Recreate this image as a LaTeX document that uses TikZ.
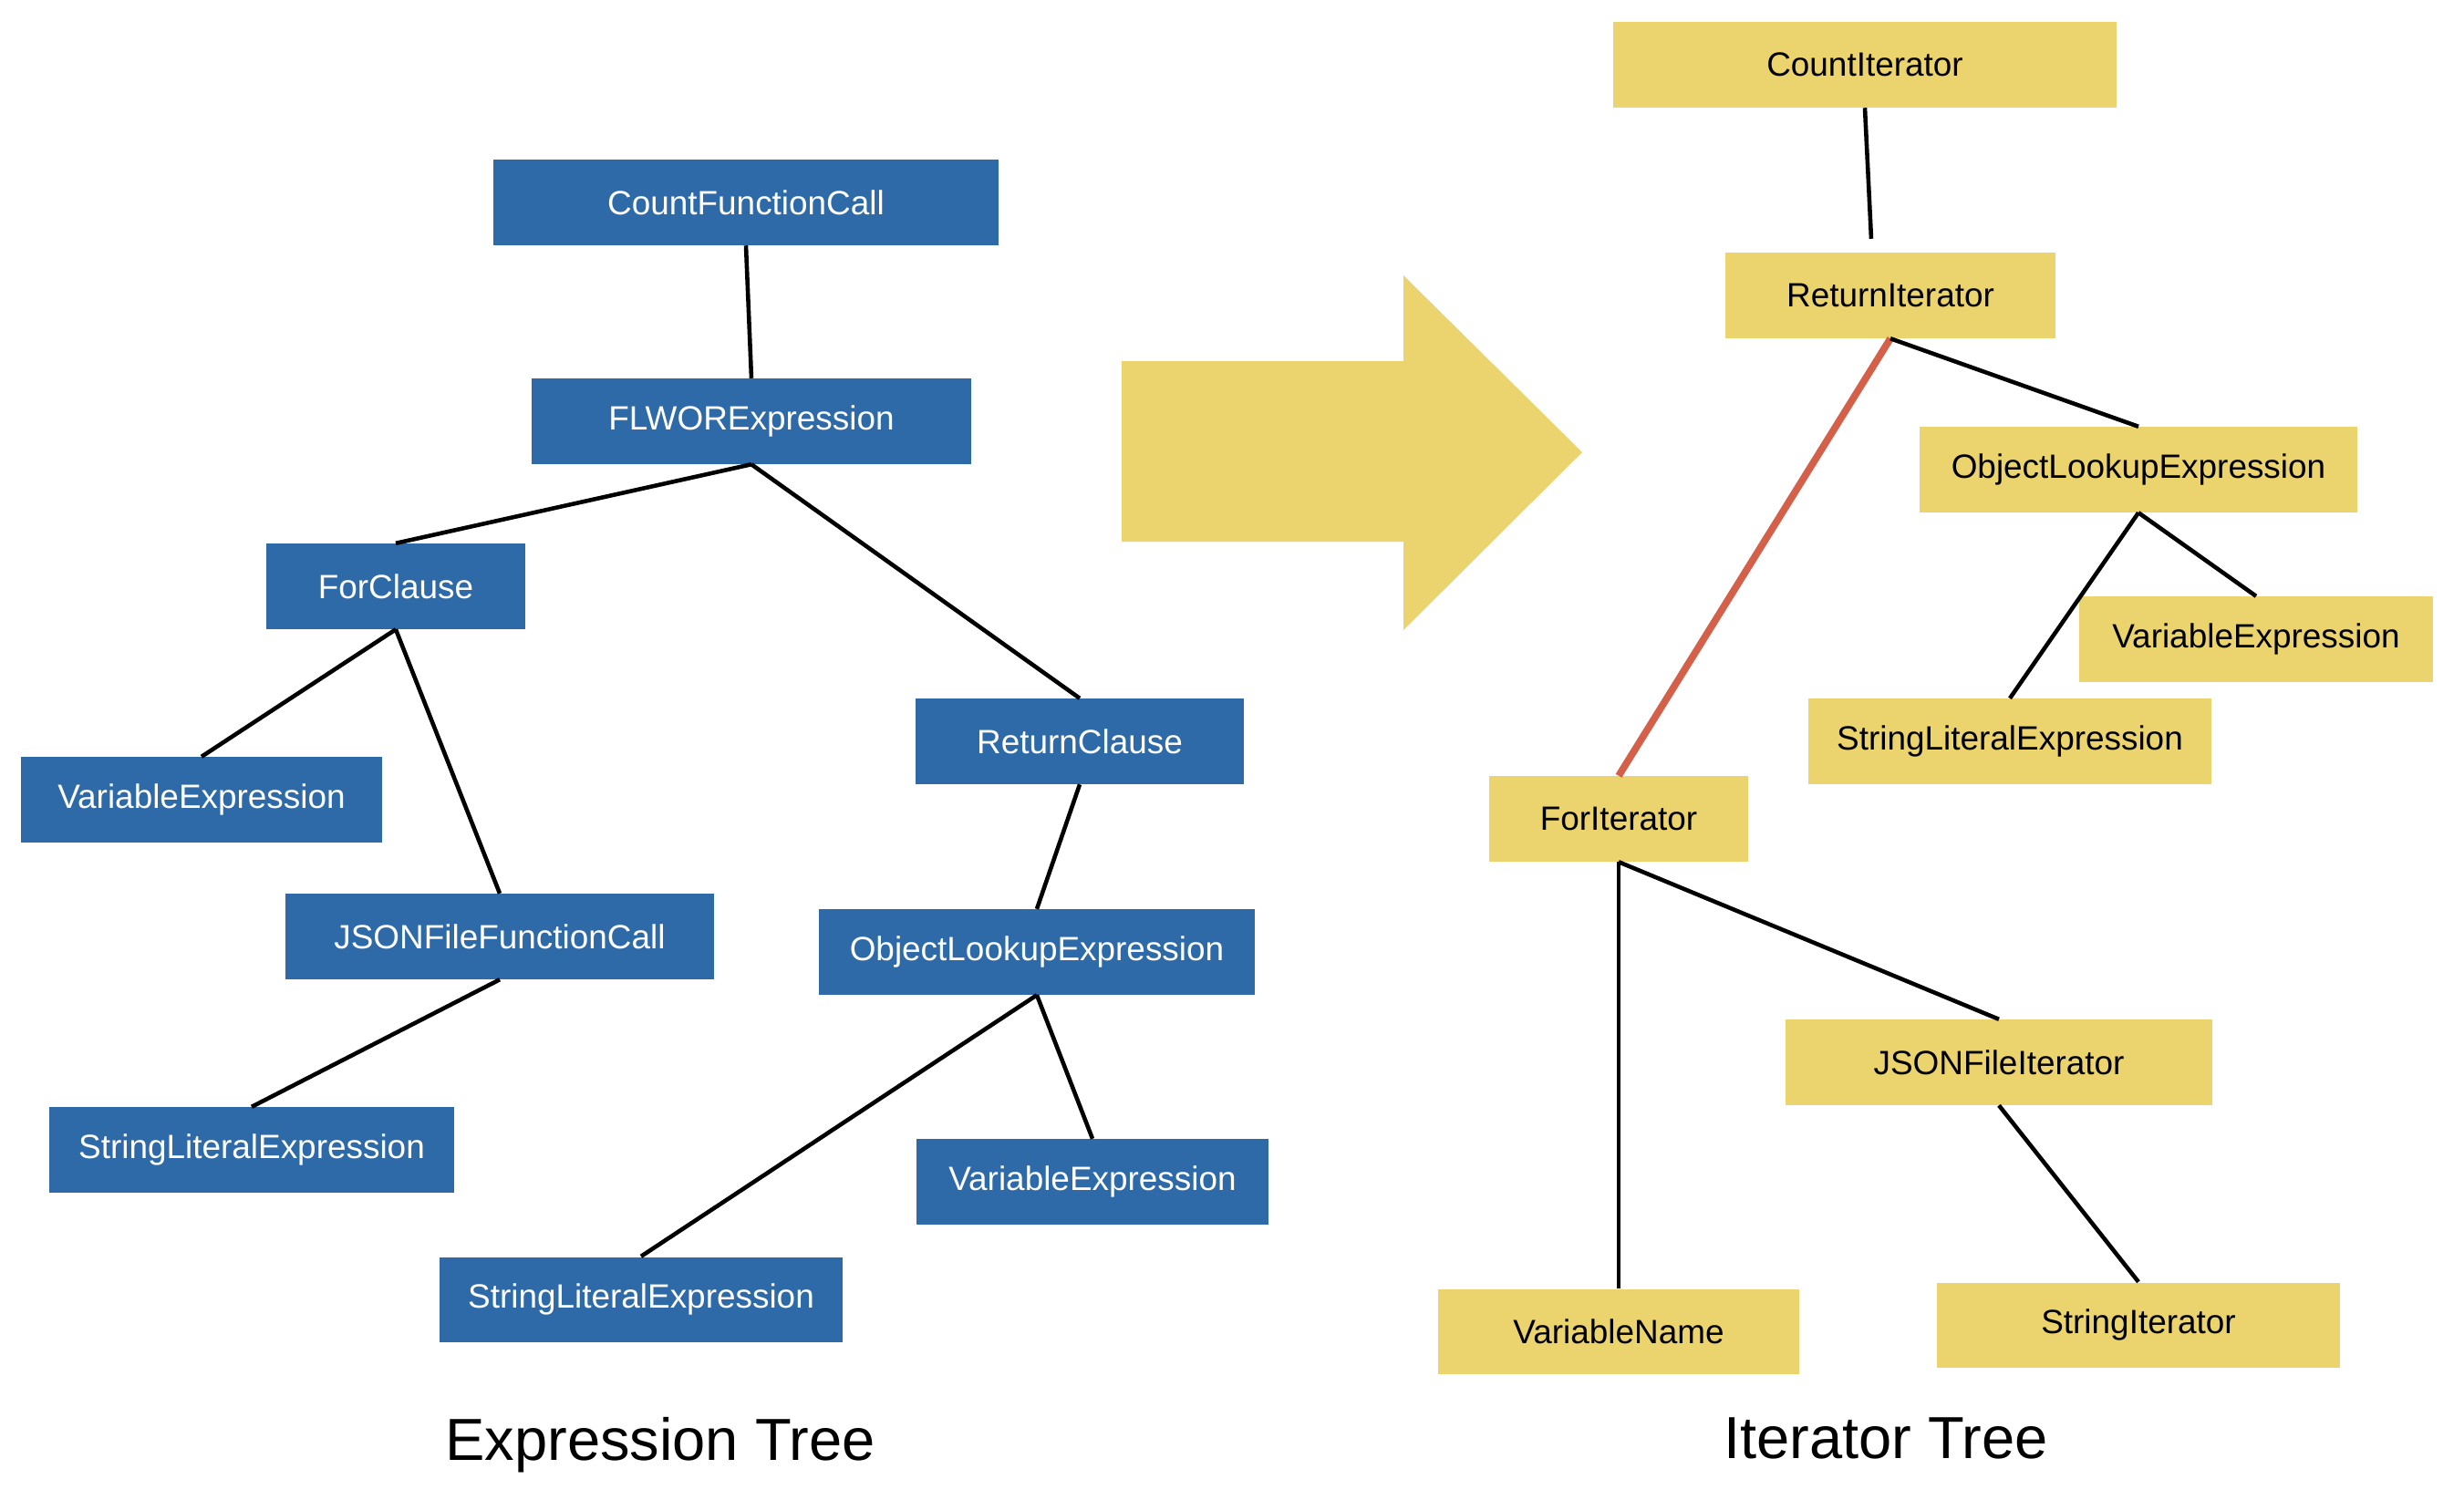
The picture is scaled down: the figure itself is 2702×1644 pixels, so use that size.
\documentclass[tikz,border=0pt]{standalone}
\usepackage{fontspec}
\setmainfont{Liberation Sans}
\usepackage{xcolor}
\definecolor{exprBlue}{RGB}{46, 106, 168}
\definecolor{iterYellow}{RGB}{235, 211, 110}
\definecolor{edgeRed}{RGB}{212, 96, 74}
\usepackage{tikz}

\begin{document}
\begin{tikzpicture}[x=0.01cm, y=-0.01cm,
  exprbox/.style={rectangle, fill=exprBlue, text=white, inner sep=0pt,
                  minimum height=0.93cm, align=center,
                  font=\fontsize{10.5}{12}\selectfont},
  iterbox/.style={rectangle, fill=iterYellow, text=black, inner sep=0pt,
                  minimum height=0.93cm, align=center,
                  font=\fontsize{10.5}{12}\selectfont},
  edge/.style={line width=1.3pt},
  hotedge/.style={line width=2.2pt, edgeRed},
  treetitle/.style={font=\fontsize{18.5}{22}\selectfont},
]
  \useasboundingbox (0,0) rectangle (2702,1644);

  % expression tree
  \node[exprbox, minimum width=5.53cm] (cfc)   at (818,222)  {CountFunctionCall};
  \node[exprbox, minimum width=4.81cm] (flwor) at (824,462)  {FLWORExpression};
  \node[exprbox, minimum width=2.83cm] (forc)  at (434,643)  {ForClause};
  \node[exprbox, minimum width=3.95cm] (varl)  at (221,877)  {VariableExpression};
  \node[exprbox, minimum width=4.70cm] (jsonc) at (548,1027) {JSONFileFunctionCall};
  \node[exprbox, minimum width=4.43cm] (strl)  at (276,1261) {StringLiteralExpression};
  \node[exprbox, minimum width=3.60cm] (retc)  at (1184,813) {ReturnClause};
  \node[exprbox, minimum width=4.77cm] (olel)  at (1137,1044) {ObjectLookupExpression};
  \node[exprbox, minimum width=3.86cm] (varr)  at (1198,1296) {VariableExpression};
  \node[exprbox, minimum width=4.41cm] (strb)  at (703,1425) {StringLiteralExpression};
  \node[treetitle] (exprtitle) at (724,1585) {Expression Tree};

  \draw[edge] (cfc.south) -- (flwor.north);
  \draw[edge] (flwor.south) -- (forc.north);
  \draw[edge] (flwor.south) -- (retc.north);
  \draw[edge] (forc.south) -- (varl.north);
  \draw[edge] (forc.south) -- (jsonc.north);
  \draw[edge] (jsonc.south) -- (strl.north);
  \draw[edge] (retc.south) -- (olel.north);
  \draw[edge] (olel.south) -- (varr.north);
  \draw[edge] (olel.south) -- (strb.north);

  % big arrow
  \fill[iterYellow] (1230,396) -- (1539,396) -- (1539,302) -- (1735,496)
    -- (1539,691) -- (1539,594) -- (1230,594) -- cycle;

  % iterator tree
  \node[iterbox, minimum width=5.51cm] (cnti)  at (2045,71)   {CountIterator};
  \node[iterbox, minimum width=3.61cm] (reti)  at (2073,324)  {ReturnIterator};
  \node[iterbox, minimum width=4.79cm] (olei)  at (2345,515)  {ObjectLookupExpression};
  \node[iterbox, minimum width=3.88cm] (vari)  at (2474,701)  {VariableExpression};
  \node[iterbox, minimum width=4.41cm] (stri)  at (2204,813)  {StringLiteralExpression};
  \node[iterbox, minimum width=2.84cm] (fori)  at (1775,898)  {ForIterator};
  \node[iterbox, minimum width=4.67cm] (jsoni) at (2192,1165) {JSONFileIterator};
  \node[iterbox, minimum width=3.95cm] (vnam)  at (1775,1460) {VariableName};
  \node[iterbox, minimum width=4.41cm] (siter) at (2345,1453) {StringIterator};
  \node[treetitle] (itertitle) at (2068,1577) {Iterator Tree};

  \draw[edge] (cnti.south) -- ([xshift=-0.21cm, yshift=0.15cm]reti.north);
  \draw[hotedge] (reti.south) -- (fori.north);
  \draw[edge] (reti.south) -- (olei.north);
  \draw[edge] (olei.south) -- (vari.north);
  \draw[edge] (olei.south) -- (stri.north);
  \draw[edge] (fori.south) -- (vnam.north);
  \draw[edge] (fori.south) -- (jsoni.north);
  \draw[edge] (jsoni.south) -- (siter.north);
\end{tikzpicture}
\end{document}
